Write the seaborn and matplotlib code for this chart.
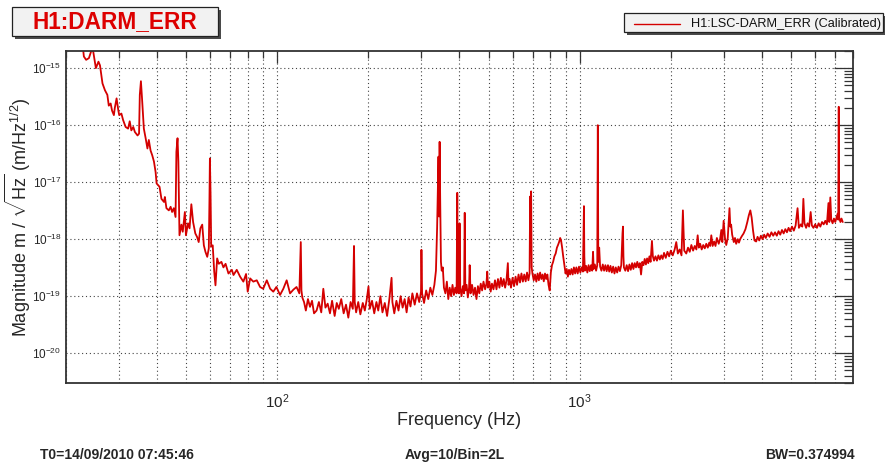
import numpy as np
import pandas as pd
import matplotlib
matplotlib.use("Agg")
import matplotlib.pyplot as plt
import matplotlib.ticker as mticker
from matplotlib.patches import Rectangle
from matplotlib.lines import Line2D
import seaborn as sns

# DARM_ERR amplitude spectral density
# frequency in Hz, magnitude in m/sqrt(Hz)
freq_hz = [
    22.2, 22.9, 23.0, 23.4, 23.9, 24.4, 24.7, 25.2,
    25.7, 26.0, 26.5, 27.0, 27.5, 27.8, 28.2, 28.5,
    28.9, 29.1, 29.5, 29.9, 30.1, 30.6, 31.0, 31.6,
    32.2, 32.6, 33.0, 33.5, 33.9, 34.6, 35.0, 35.2,
    35.5, 35.8, 36.3, 36.8, 37.3, 37.7, 38.2, 38.7,
    39.2, 39.7, 40.0, 40.9, 41.5, 42.3, 42.6, 43.1,
    43.9, 44.5, 45.0, 45.6, 46.2, 46.5, 46.9, 47.2,
    47.6, 48.3, 48.8, 49.6, 50.0, 50.8, 51.4, 52.1,
    52.8, 53.7, 54.4, 55.1, 55.8, 56.6, 57.3, 58.0,
    58.8, 59.5, 59.8, 60.0, 60.3, 60.6, 61.3, 62.0,
    62.6, 63.4, 64.2, 65.5, 66.5, 67.6, 69.1, 70.9,
    71.8, 73.6, 75.5, 77.4, 79.0, 80.0, 81.5, 83.5,
    85.7, 87.9, 90.0, 92.5, 94.9, 97.2, 99.5, 102.3,
    104.9, 107.6, 110.4, 113.2, 116.0, 118.5, 119.8, 120.4,
    121.2, 122.8, 124.5, 126.5, 128.5, 130.5, 132.5, 135.1,
    137.5, 140.0, 142.2, 144.5, 147.0, 149.6, 152.0, 155.0,
    157.5, 160.0, 163.0, 166.0, 169.0, 172.0, 175.0, 178.0,
    179.6, 180.6, 182.5, 185.5, 188.5, 192.0, 195.0, 198.0,
    200.5, 202.5, 206.0, 209.5, 213.0, 216.0, 219.5, 223.0,
    227.0, 231.0, 235.0, 239.0, 240.5, 244.0, 248.0, 252.0,
    256.0, 260.0, 264.0, 268.0, 272.0, 276.0, 280.0, 285.0,
    290.0, 295.0, 299.0, 300.0, 301.5, 306.0, 311.0, 316.0,
    321.0, 326.0, 331.0, 335.0, 338.0, 341.5, 343.0, 344.5,
    346.0, 348.0, 350.0, 353.0, 356.0, 360.0, 364.0, 368.0,
    372.0, 376.0, 380.0, 384.0, 388.0, 392.0, 394.0, 396.0,
    399.0, 401.0, 403.0, 407.0, 411.0, 415.0, 417.0, 419.0,
    423.0, 427.0, 431.0, 433.0, 436.0, 441.0, 446.0, 451.0,
    456.0, 461.0, 466.0, 471.0, 476.0, 481.0, 487.0, 492.0,
    495.0, 498.0, 503.0, 508.0, 513.0, 519.0, 525.0, 531.0,
    537.0, 543.0, 549.0, 555.0, 561.0, 567.0, 573.0, 579.0,
    582.0, 587.0, 593.0, 600.0, 607.0, 614.0, 621.0, 628.0,
    635.0, 642.0, 649.0, 656.0, 663.0, 670.0, 677.0, 683.0,
    686.0, 688.0, 691.0, 694.0, 698.0, 705.0, 712.0, 719.0,
    726.0, 733.0, 740.0, 747.0, 754.0, 761.0, 768.0, 775.0,
    782.0, 789.0, 796.0, 803.0, 810.0, 817.0, 825.0, 833.0,
    841.0, 848.0, 855.0, 862.0, 868.0, 875.0, 882.0, 890.0,
    898.0, 906.0, 914.0, 922.0, 930.0, 939.0, 948.0, 957.0,
    966.0, 975.0, 985.0, 995.0, 1005.0, 1015.0, 1025.0, 1030.0,
    1033.0, 1036.0, 1040.0, 1050.0, 1060.0, 1070.0, 1080.0, 1090.0,
    1100.0, 1107.0, 1112.0, 1122.0, 1133.0, 1143.0, 1148.0, 1152.0,
    1160.0, 1168.0, 1180.0, 1192.0, 1204.0, 1216.0, 1228.0, 1240.0,
    1252.0, 1264.0, 1277.0, 1290.0, 1303.0, 1316.0, 1330.0, 1344.0,
    1358.0, 1372.0, 1385.0, 1390.0, 1395.0, 1400.0, 1415.0, 1430.0,
    1445.0, 1460.0, 1475.0, 1490.0, 1505.0, 1520.0, 1535.0, 1550.0,
    1565.0, 1580.0, 1595.0, 1610.0, 1625.0, 1640.0, 1655.0, 1670.0,
    1685.0, 1700.0, 1715.0, 1733.0, 1745.0, 1760.0, 1780.0, 1800.0,
    1820.0, 1840.0, 1860.0, 1880.0, 1900.0, 1925.0, 1950.0, 1975.0,
    2000.0, 2030.0, 2060.0, 2085.0, 2110.0, 2140.0, 2170.0, 2193.0,
    2215.0, 2250.0, 2280.0, 2310.0, 2339.0, 2370.0, 2400.0, 2430.0,
    2454.0, 2475.0, 2500.0, 2530.0, 2560.0, 2590.0, 2620.0, 2650.0,
    2680.0, 2700.0, 2722.0, 2750.0, 2780.0, 2810.0, 2840.0, 2880.0,
    2910.0, 2938.0, 2960.0, 2990.0, 3020.0, 3050.0, 3085.0, 3126.0,
    3145.0, 3165.0, 3190.0, 3230.0, 3260.0, 3289.0, 3330.0, 3360.0,
    3390.0, 3430.0, 3480.0, 3530.0, 3580.0, 3620.0, 3663.0, 3700.0,
    3740.0, 3780.0, 3830.0, 3870.0, 3920.0, 3970.0, 4020.0, 4070.0,
    4120.0, 4180.0, 4240.0, 4300.0, 4360.0, 4420.0, 4480.0, 4540.0,
    4600.0, 4660.0, 4720.0, 4780.0, 4840.0, 4900.0, 4960.0, 5030.0,
    5100.0, 5170.0, 5247.0, 5300.0, 5380.0, 5440.0, 5484.0, 5530.0,
    5600.0, 5660.0, 5730.0, 5797.0, 5850.0, 5920.0, 6000.0, 6080.0,
    6160.0, 6240.0, 6320.0, 6400.0, 6480.0, 6560.0, 6637.0, 6680.0,
    6732.0, 6780.0, 6850.0, 6920.0, 6990.0, 7060.0, 7117.0, 7150.0,
    7178.0, 7200.0, 7270.0, 7330.0, 7400.0,
]

asd_m_rthz = [
    2.8e-15, 2.0e-15, 1.6e-15, 1.4e-15, 1.5e-15, 2.1e-15, 1.95e-15, 1.0e-15,
    1.3e-15, 1.12e-15, 5.4e-16, 4.1e-16, 3.4e-16, 2.2e-16, 2.4e-16, 1.8e-16,
    1.5e-16, 2.0e-16, 2.95e-16, 1.8e-16, 1.5e-16, 1.6e-16, 1.23e-16, 9.3e-17,
    8.7e-17, 1.17e-16, 8.1e-17, 9.3e-17, 7.6e-17, 6.6e-17, 7.1e-17, 3.4e-16,
    5.9e-16, 2.95e-16, 8.7e-17, 5.9e-17, 3.9e-17, 5.5e-17, 3.6e-17, 2.95e-17,
    2.3e-17, 1.5e-17, 9.5e-18, 8.3e-18, 5.1e-18, 4.5e-18, 5.5e-18, 3.5e-18,
    3.2e-18, 3.7e-18, 3.0e-18, 3.5e-18, 2.45e-18, 3.4e-17, 5.9e-17, 2.3e-17,
    1.17e-18, 1.8e-18, 1.35e-18, 3.0e-18, 1.17e-18, 1.9e-18, 1.55e-18, 4.1e-18,
    2.0e-18, 1.26e-18, 1.1e-18, 8.9e-19, 1.55e-18, 1.8e-18, 7.8e-19, 6.0e-19,
    4.9e-19, 6.9e-19, 5.0e-18, 2.6e-17, 6.3e-18, 7.4e-19, 7.8e-19, 2.7e-19,
    1.55e-19, 4.6e-19, 3.7e-19, 4.0e-19, 3.2e-19, 3.7e-19, 2.5e-19, 2.9e-19,
    2.35e-19, 2.9e-19, 2.2e-19, 1.8e-19, 2.45e-19, 1.2e-19, 2.05e-19, 1.8e-19,
    1.9e-19, 1.45e-19, 1.35e-19, 1.9e-19, 1.35e-19, 1.2e-19, 1.45e-19, 1.05e-19,
    1.35e-19, 1.9e-19, 1.12e-19, 1.3e-19, 1.45e-19, 1.12e-19, 8.9e-19, 1.26e-19,
    9.5e-20, 7.9e-20, 5.6e-20, 8.9e-20, 6.5e-20, 8.3e-20, 5.0e-20, 5.6e-20,
    7.9e-20, 5.2e-20, 1.35e-19, 6.3e-20, 7.4e-20, 5.0e-20, 8.3e-20, 4.5e-20,
    7.6e-20, 6.0e-20, 8.9e-20, 5.0e-20, 7.1e-20, 4.2e-20, 7.9e-20, 6.0e-20,
    7.6e-19, 7.9e-20, 5.2e-20, 7.9e-20, 4.8e-20, 7.6e-20, 5.6e-20, 8.9e-20,
    1.48e-19, 6.0e-20, 8.3e-20, 5.0e-20, 7.9e-20, 5.6e-20, 1.0e-19, 5.2e-20,
    7.6e-20, 4.5e-20, 8.9e-20, 2.1e-19, 7.9e-20, 5.0e-20, 8.3e-20, 5.6e-20,
    1.0e-19, 6.3e-20, 8.9e-20, 5.2e-20, 9.5e-20, 6.6e-20, 1.12e-19, 7.1e-20,
    1.12e-19, 7.9e-20, 1.2e-19, 6.5e-19, 1.12e-19, 7.6e-20, 1.26e-19, 8.9e-20,
    1.41e-19, 1.05e-19, 1.58e-19, 2.8e-19, 1.58e-18, 2.8e-17, 2.5e-18, 5.1e-17,
    5.0e-18, 4.0e-19, 2.8e-19, 3.2e-19, 1.41e-19, 1.12e-19, 1.8e-19, 8.9e-20,
    1.41e-19, 1.0e-19, 1.58e-19, 1.05e-19, 1.41e-19, 1.12e-19, 6.5e-18, 1.26e-19,
    1.12e-19, 1.9e-18, 1.41e-19, 1.0e-19, 1.5e-19, 1.12e-19, 2.9e-18, 1.26e-19,
    1.58e-19, 9.5e-20, 1.41e-19, 3.5e-19, 1.12e-19, 1.58e-19, 1.05e-19, 1.41e-19,
    8.9e-20, 1.5e-19, 1.12e-19, 1.66e-19, 1.26e-19, 1.8e-19, 1.32e-19, 1.66e-19,
    2.7e-19, 1.41e-19, 1.8e-19, 1.2e-19, 1.66e-19, 1.32e-19, 1.9e-19, 1.32e-19,
    2.0e-19, 1.41e-19, 2.1e-19, 1.5e-19, 2.0e-19, 1.41e-19, 1.9e-19, 3.8e-19,
    1.58e-19, 2.0e-19, 1.41e-19, 2.1e-19, 1.5e-19, 2.2e-19, 1.58e-19, 2.4e-19,
    1.74e-19, 2.5e-19, 1.8e-19, 2.4e-19, 1.82e-19, 2.6e-19, 1.9e-19, 2.5e-19,
    5.6e-18, 6.3e-19, 6.9e-18, 3.2e-19, 2.5e-19, 1.9e-19, 2.4e-19, 1.8e-19,
    2.5e-19, 1.9e-19, 2.6e-19, 2.0e-19, 2.4e-19, 1.82e-19, 2.5e-19, 2.0e-19,
    2.4e-19, 1.58e-19, 1.26e-19, 2.6e-19, 3.5e-19, 4.0e-19, 5.0e-19, 5.6e-19,
    7.1e-19, 7.9e-19, 8.9e-19, 1.05e-18, 9.5e-19, 7.1e-19, 5.0e-19, 3.5e-19,
    2.5e-19, 3.0e-19, 2.2e-19, 2.9e-19, 2.4e-19, 3.0e-19, 2.4e-19, 3.2e-19,
    2.5e-19, 3.2e-19, 2.5e-19, 3.3e-19, 2.6e-19, 3.2e-19, 2.7e-19, 1.26e-18,
    3.8e-18, 5.0e-19, 2.8e-19, 3.4e-19, 2.6e-19, 3.5e-19, 2.75e-19, 3.5e-19,
    2.8e-19, 6.0e-19, 3.0e-19, 3.6e-19, 2.8e-19, 3.5e-19, 1.0e-16, 4.0e-19,
    7.1e-19, 3.3e-19, 2.8e-19, 3.6e-19, 2.8e-19, 3.5e-19, 2.75e-19, 3.5e-19,
    2.7e-19, 3.4e-19, 2.6e-19, 3.3e-19, 2.5e-19, 3.2e-19, 2.6e-19, 3.3e-19,
    2.75e-19, 3.5e-19, 1.26e-18, 1.66e-18, 5.0e-19, 3.2e-19, 2.8e-19, 3.5e-19,
    2.75e-19, 3.6e-19, 2.9e-19, 3.8e-19, 3.0e-19, 3.8e-19, 3.2e-19, 4.0e-19,
    3.2e-19, 3.8e-19, 2.4e-19, 4.0e-19, 3.5e-19, 4.5e-19, 3.6e-19, 4.6e-19,
    3.8e-19, 5.0e-19, 4.0e-19, 9.3e-19, 5.0e-19, 4.2e-19, 5.0e-19, 4.2e-19,
    5.2e-19, 4.4e-19, 5.2e-19, 4.5e-19, 5.75e-19, 4.7e-19, 6.0e-19, 5.0e-19,
    6.3e-19, 5.2e-19, 6.6e-19, 8.9e-19, 5.6e-19, 6.6e-19, 5.2e-19, 3.2e-18,
    6.3e-19, 5.6e-19, 7.1e-19, 6.0e-19, 7.9e-19, 6.3e-19, 7.6e-19, 6.6e-19,
    1.17e-18, 7.1e-19, 8.3e-19, 6.6e-19, 7.9e-19, 6.9e-19, 8.3e-19, 7.1e-19,
    8.7e-19, 7.6e-19, 1.17e-18, 7.6e-19, 9.1e-19, 7.6e-19, 1.05e-18, 8.3e-19,
    1.0e-18, 1.45e-18, 8.9e-19, 2.1e-18, 1.05e-18, 7.9e-19, 1.05e-18, 3.5e-18,
    1.66e-18, 1.8e-18, 1.2e-18, 8.9e-19, 1.05e-18, 8.3e-19, 1.0e-18, 8.7e-19,
    1.0e-18, 1.12e-18, 1.26e-18, 1.5e-18, 2.0e-18, 2.6e-18, 3.2e-18, 2.4e-18,
    1.41e-18, 9.5e-19, 9.1e-19, 1.1e-18, 9.5e-19, 1.15e-18, 1.0e-18, 1.2e-18,
    1.05e-18, 1.26e-18, 1.1e-18, 1.32e-18, 1.15e-18, 1.32e-18, 1.15e-18, 1.38e-18,
    1.2e-18, 1.45e-18, 1.26e-18, 1.5e-18, 1.32e-18, 1.58e-18, 1.38e-18, 1.66e-18,
    1.41e-18, 1.74e-18, 3.5e-18, 1.58e-18, 1.82e-18, 1.66e-18, 5.1e-18, 1.9e-18,
    1.58e-18, 1.9e-18, 1.66e-18, 3.0e-18, 1.74e-18, 1.58e-18, 1.82e-18, 1.58e-18,
    1.9e-18, 1.66e-18, 2.0e-18, 1.82e-18, 2.1e-18, 1.82e-18, 4.3e-18, 2.0e-18,
    5.4e-18, 2.2e-18, 1.9e-18, 2.3e-18, 2.0e-18, 2.4e-18, 2.8e-18, 2.2e-18,
    2.1e-16, 2.4e-18, 2.0e-18, 2.3e-18, 2.0e-18,
]

x_major_ticks = [100, 1000]
y_major_ticks = [1e-20, 1e-19, 1e-18, 1e-17, 1e-16, 1e-15]

channel_title = "H1:DARM_ERR"
legend_label = "H1:LSC-DARM_ERR (Calibrated)"
footer_left = "T0=14/09/2010 07:45:46"
footer_mid = "Avg=10/Bin=2L"
footer_right = "BW=0.374994"

W, H = 885, 468
RED = "#d40000"


def fx(px):
    return px / W


def fy(py):
    return 1 - py / H


def pave(x0, y0, x1, y1):
    # ROOT-style box with a dark drop shadow
    shadow = Rectangle((fx(x0 + 3), fy(y1 + 3)), (x1 - x0) / W, (y1 - y0) / H,
                       transform=fig.transFigure, facecolor="#4a4a4a",
                       edgecolor="none")
    box = Rectangle((fx(x0), fy(y1)), (x1 - x0) / W, (y1 - y0) / H,
                    transform=fig.transFigure, facecolor="#f2f2f2",
                    edgecolor="#222222", lw=0.9)
    fig.patches.extend([shadow, box])


sns.set_style("white")
plt.rcParams["font.family"] = ["Liberation Sans", "DejaVu Sans"]
plt.rcParams["mathtext.fontset"] = "custom"
plt.rcParams["mathtext.rm"] = "Liberation Sans"
plt.rcParams["mathtext.it"] = "Liberation Sans:italic"
plt.rcParams["mathtext.bf"] = "Liberation Sans:bold"

fig = plt.figure(figsize=(W / 100, H / 100), dpi=100)
ax = fig.add_axes([fx(65.5), fy(383), (853 - 65.5) / W, (383 - 51) / H])

df = pd.DataFrame({"freq": freq_hz, "asd": asd_m_rthz})
sns.lineplot(data=df, x="freq", y="asd", estimator=None, sort=False,
             color=RED, lw=1.3, ax=ax, legend=False)

ax.set_xscale("log")
ax.set_yscale("log")
ax.set_xlim(20, 8000)
ax.set_ylim(3.0e-21, 2.0e-15)

ax.xaxis.set_major_locator(mticker.FixedLocator(x_major_ticks))
ax.xaxis.set_minor_locator(mticker.LogLocator(base=10, subs=np.arange(2, 10), numticks=50))
ax.yaxis.set_major_locator(mticker.FixedLocator(y_major_ticks))
ax.yaxis.set_minor_locator(mticker.LogLocator(base=10, subs=np.arange(2, 10), numticks=80))
ax.xaxis.set_major_formatter(mticker.LogFormatterSciNotation())
ax.yaxis.set_major_formatter(mticker.LogFormatterSciNotation())
ax.xaxis.set_minor_formatter(mticker.NullFormatter())
ax.yaxis.set_minor_formatter(mticker.NullFormatter())

ax.grid(True, which="both", axis="x", linestyle=(0, (1, 2.5)), color="#444444", lw=0.8)
ax.grid(True, which="major", axis="y", linestyle=(0, (1, 2.5)), color="#444444", lw=0.8)

ax.tick_params(which="both", direction="in", top=True, right=True,
               color="#333333", width=0.9)
ax.tick_params(axis="y", which="major", length=14, labelsize=8.5, pad=3)
ax.tick_params(axis="y", which="minor", length=6.5)
ax.tick_params(axis="x", which="major", length=8.5, labelsize=11, pad=7)
ax.tick_params(axis="x", which="minor", length=5)

for sp in ax.spines.values():
    sp.set_color("#333333")
    sp.set_linewidth(1.3)

ax.set_xlabel("Frequency (Hz)", fontsize=13)
ax.xaxis.set_label_coords(0.5, -0.087)
ax.set_ylabel(r"Magnitude m / $\sqrt{\mathrm{Hz}}$ (m/Hz$^{1/2}$)", fontsize=13)
ax.yaxis.set_label_coords(-0.041, 0.5)

# title pave
pave(12, 7, 218, 36)
fig.text(fx(115), fy(21.5), channel_title, ha="center", va="center",
         color="#dd0000", fontsize=16.3, fontweight="bold")

# legend pave
pave(624, 13, 883, 32)
fig.lines.append(Line2D([fx(634), fx(680)], [fy(23.5), fy(23.5)],
                        transform=fig.transFigure, color=RED, lw=1.0))
fig.text(fx(691), fy(23.5), legend_label, ha="left", va="center",
         fontsize=9.2, color="#111111")

# footer
fig.text(fx(40), fy(455), footer_left, ha="left", va="center",
         fontsize=10, fontweight="bold")
fig.text(fx(455), fy(455), footer_mid, ha="center", va="center",
         fontsize=10, fontweight="bold")
fig.text(fx(855), fy(455), footer_right, ha="right", va="center",
         fontsize=10, fontweight="bold")

fig.savefig("out.png", dpi=100, facecolor="white")
